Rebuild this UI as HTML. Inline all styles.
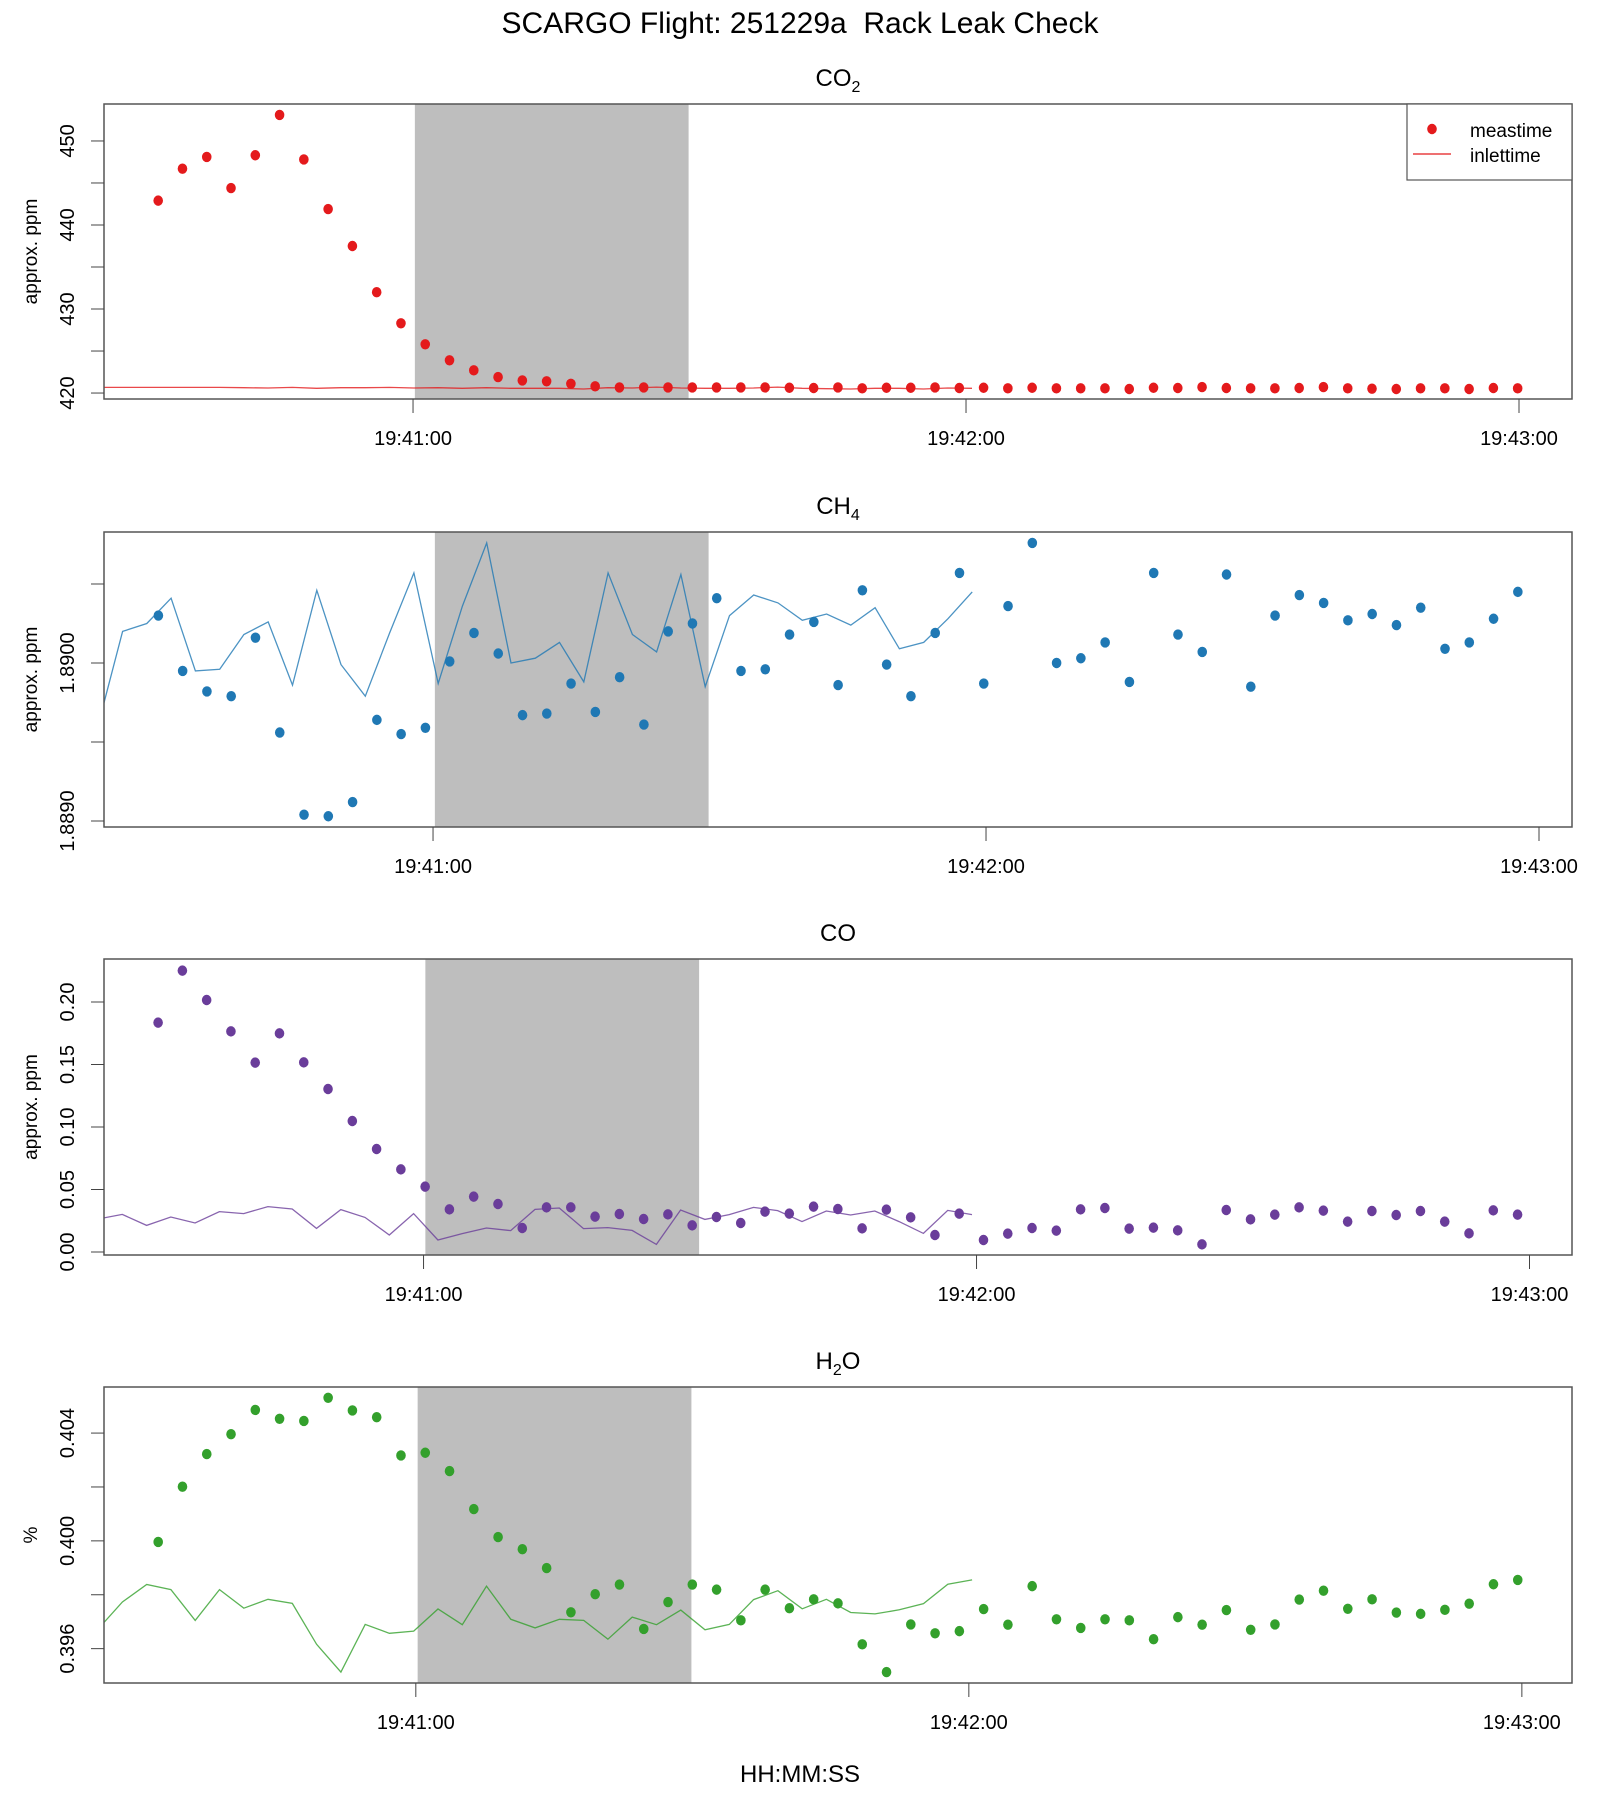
<!DOCTYPE html>
<html><head><meta charset="utf-8"><title>SCARGO Flight 251229a Rack Leak Check</title>
<style>
html,body{margin:0;padding:0;background:#fff;}
svg{display:block;font-family:"Liberation Sans",Arial,sans-serif;}
</style></head>
<body>
<svg id="chart" width="1600" height="1800" viewBox="0 0 1600 1800" xmlns="http://www.w3.org/2000/svg">
<text x="800" y="33" font-size="30" text-anchor="middle" style="white-space:pre" xml:space="preserve">SCARGO Flight: 251229a  Rack Leak Check</text>
<text x="800" y="1782" font-size="24" text-anchor="middle">HH:MM:SS</text>
</svg>
<script>
// ---- data ----
const timeTickLabels = ["19:41:00", "19:42:00", "19:43:00"];
const timeTickSeconds = [0, 60, 120];
const STEP = 2.634;      // sampling interval, s
const LAG = 59.2;        // inlet lag, s
const bandStart = 0.2, bandEnd = 29.9;

const co2Values = [442.9,446.7,448.1,444.4,448.3,453.1,447.8,441.9,437.5,432.0,428.3,425.8,423.9,422.7,421.9,421.5,421.4,421.1,420.8,
 420.67,420.67,420.67,420.67,420.67,420.67,420.67,420.63,
 420.60,420.67,420.56,420.63,420.63,420.67,420.60,420.63,420.56,420.63,420.56,420.56,420.56,420.48,420.63,420.60,420.71,420.60,420.56,420.56,420.60,420.71,420.56,420.52,420.48,420.56,420.56,420.48,420.60,420.56];
const co2YTicks = [420,425,430,435,440,445,450];
const co2YLabels = ["420","","430","","440","","450"];

const ch4Values = [1.89030,1.88995,1.88982,1.88979,1.89016,1.88956,1.88904,1.88903,1.88912,1.88964,1.88955,1.88959,1.89001,1.89019,1.89006,1.88967,1.88968,1.88987,1.88969,1.88991,1.88961,1.89020,1.89025,1.89041,1.88995,1.88996,1.89018,1.89026,1.88986,
 1.89046,1.88999,1.88979,1.89019,1.89057,1.88987,1.89036,1.89076,1.89000,1.89003,1.89013,1.88988,1.89057,1.89018,1.89007,1.89056,1.88985,1.89030,1.89043,1.89038,1.89027,1.89031,1.89024,1.89035,1.89009,1.89013,1.89028,1.89045];
const ch4YTicks = [1.8890,1.8895,1.8900,1.8905];
const ch4YLabels = ["1.8890","","1.8900",""];

const coValues = [0.1835,0.2251,0.2016,0.1765,0.1515,0.1749,0.1517,0.1304,0.1048,0.0824,0.0661,0.0523,0.0341,0.0443,0.0384,0.0192,0.0357,0.0357,0.0283,0.0304,0.0264,0.0301,0.0213,0.0280,0.0232,0.0323,0.0307,
 0.0363,0.0344,0.0189,0.0339,0.0277,0.0136,0.0307,0.0096,0.0147,0.0192,0.0171,0.0341,0.0352,0.0187,0.0195,0.0173,0.0061,0.0336,0.0261,0.0299,0.0357,0.0331,0.0243,0.0328,0.0296,0.0328,0.0243,0.0149,0.0333,0.0299];
const coYTicks = [0,0.05,0.10,0.15,0.20];
const coYLabels = ["0.00","0.05","0.10","0.15","0.20"];

const h2oValues = [0.39996,0.40201,0.40322,0.40396,0.40486,0.40453,0.40445,0.40531,0.40484,0.40459,0.40317,0.40327,0.40259,0.40118,0.40014,0.39969,0.39899,0.39735,0.39802,0.39838,0.39673,0.39773,0.39838,0.39819,0.39705,0.39819,0.39750,
 0.39783,0.39768,0.39616,0.39513,0.39690,0.39657,0.39665,0.39747,0.39689,0.39832,0.39709,0.39677,0.39709,0.39705,0.39635,0.39717,0.39689,0.39743,0.39670,0.39690,0.39782,0.39815,0.39748,0.39783,0.39734,0.39729,0.39744,0.39767,0.39839,0.39855];
const h2oYTicks = [0.396,0.398,0.400,0.402,0.404];
const h2oYLabels = ["0.396","","0.400","","0.404"];

// ---- drawing ----
const NS = "http://www.w3.org/2000/svg";
const svg = document.getElementById("chart");
function mk(tag, attrs, parent) {
  const e = document.createElementNS(NS, tag);
  for (const k in attrs) e.setAttribute(k, attrs[k]);
  (parent || svg).appendChild(e);
  return e;
}

const panels = [
  {key:"co2", values:co2Values, yTicks:co2YTicks, yLabels:co2YLabels, color:"#E41A1C", top:104, bottom:399, xmin:-33.53, xmax:125.75, t0:-27.65, ymin:419.29, ymax:454.40, ylab:"approx. ppm", title:["CO","2",""], legend:true},
  {key:"ch4", values:ch4Values, yTicks:ch4YTicks, yLabels:ch4YLabels, color:"#1F78B4", top:532, bottom:827, xmin:-35.70, xmax:123.58, t0:-29.80, ymin:1.888962, ymax:1.890829, ylab:"approx. ppm", title:["CH","4",""]},
  {key:"co", values:coValues, yTicks:coYTicks, yLabels:coYLabels, color:"#6A3D9A", top:959, bottom:1255, xmin:-34.67, xmax:124.61, t0:-28.80, ymin:-0.0024, ymax:0.2344, ylab:"approx. ppm", title:["CO","",""]},
  {key:"h2o", values:h2oValues, yTicks:h2oYTicks, yLabels:h2oYLabels, color:"#33A02C", top:1387, bottom:1683, xmin:-33.83, xmax:125.44, t0:-27.95, ymin:0.394725, ymax:0.405710, ylab:"%", title:["H","2","O"]}
];
const L = 104, R = 1572;

panels.forEach(p => {
  const g = mk("g", {});
  
  
  const sx = t => L + (t - p.xmin) / (p.xmax - p.xmin) * (R - L);
  const sy = v => p.bottom - (v - p.ymin) / (p.ymax - p.ymin) * (p.bottom - p.top);
  const times = p.values.map((_, i) => p.t0 + i * STEP);

  const clip = mk("clipPath", {id: "clip-" + p.key}, g);
  mk("rect", {x:L, y:p.top, width:R-L, height:p.bottom-p.top}, clip);

  const band = mk("rect", {x:sx(bandStart), y:p.top, width:sx(bandEnd)-sx(bandStart), height:p.bottom-p.top, fill:"#BEBEBE"}, g);
  
  

  const pts = times.map((t, i) => sx(t - LAG).toFixed(1) + "," + sy(p.values[i]).toFixed(1)).join(" ");
  const line = mk("polyline", {points:pts, fill:"none", stroke:p.color, "stroke-width":1.3, "stroke-opacity":0.8, "clip-path":"url(#clip-" + p.key + ")"}, g);
  
  

  times.forEach((t, i) => {
    const c = mk("ellipse", {cx:sx(t), cy:sy(p.values[i]), rx:4.8, ry:5.2, fill:p.color}, g);
    
    
  });

  const box = mk("rect", {x:L, y:p.top, width:R-L, height:p.bottom-p.top, fill:"none", stroke:"#555", "stroke-width":1.5}, g);
  
  

  timeTickSeconds.forEach((s, i) => {
    const x = sx(s);
    const tk = mk("line", {x1:x, x2:x, y1:p.bottom, y2:p.bottom+14, stroke:"#444", "stroke-width":1}, g);
    
    
    const tl = mk("text", {x:x, y:p.bottom+46, "font-size":20, "text-anchor":"middle"}, g);
    tl.textContent = timeTickLabels[i];
    
    
  });

  p.yTicks.forEach((v, i) => {
    const y = sy(v);
    const tk = mk("line", {x1:L-13, x2:L, y1:y, y2:y, stroke:"#444", "stroke-width":1}, g);
    
    
    if (p.yLabels[i]) {
      const tl = mk("text", {x:0, y:0, "font-size":20, "text-anchor":"middle", transform:"translate(74," + y + ") rotate(-90)"}, g);
      tl.textContent = p.yLabels[i];
      
      
    }
  });
  const yt = mk("text", {x:0, y:0, "font-size":19, "text-anchor":"middle", transform:"translate(37," + ((p.top+p.bottom)/2) + ") rotate(-90)"}, g);
  yt.textContent = p.ylab;
  
  

  const tt = mk("text", {x:(L+R)/2, y:p.top-18, "font-size":24, "text-anchor":"middle"}, g);
  
  
  const a = mk("tspan", {}, tt); a.textContent = p.title[0];
  if (p.title[1]) { const b = mk("tspan", {dy:6, "font-size":16}, tt); b.textContent = p.title[1]; }
  if (p.title[2]) { const c = mk("tspan", {dy:-6}, tt); c.textContent = p.title[2]; }

  if (p.legend) {
    const lg = mk("g", {}, g);
    
    
    mk("rect", {x:1407, y:104, width:165, height:76, fill:"#fff", stroke:"#555", "stroke-width":1.2}, lg);
    const e1 = mk("ellipse", {cx:1432, cy:129, rx:4.8, ry:5.2, fill:p.color}, lg);
    
    
    const t1 = mk("text", {x:1470, y:137, "font-size":19}, lg); t1.textContent = "meastime";
    
    
    const l2 = mk("line", {x1:1413, x2:1451, y1:154, y2:154, stroke:p.color, "stroke-width":1.3}, lg);
    
    
    const t2 = mk("text", {x:1470, y:162, "font-size":19}, lg); t2.textContent = "inlettime";
    
    
  }
});
</script>
</body></html>
